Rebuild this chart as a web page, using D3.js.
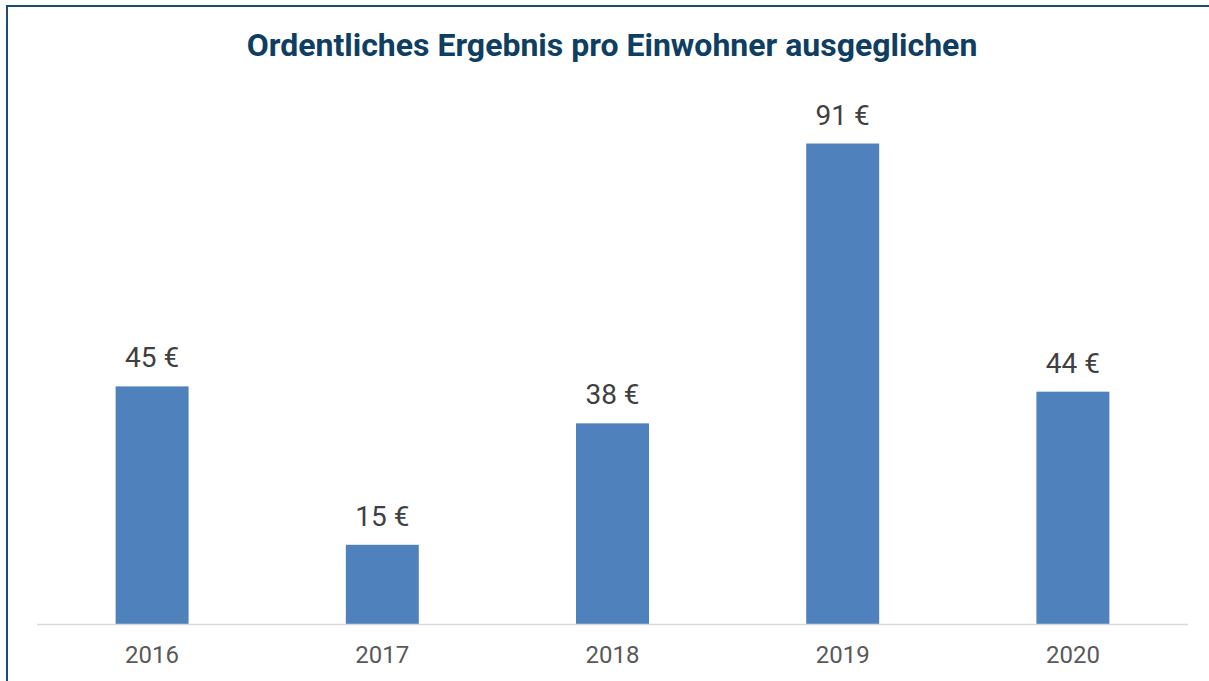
<!DOCTYPE html>
<html>
<head>
<meta charset="utf-8">
<script src="https://cdn.jsdelivr.net/npm/d3@7"></script>
<style>
  html, body { margin: 0; padding: 0; background: #fff; }
  svg { display: block; font-family: Roboto, "Noto Sans", sans-serif; }
</style>
</head>
<body>
<svg id="chart" width="1209" height="681"></svg>
<script>
const years = ["2016", "2017", "2018", "2019", "2020"];
const values = [45, 15, 38, 91, 44];
const titleText = "Ordentliches Ergebnis pro Einwohner ausgeglichen";

const W = 1209;
const H = 681;
const axisY = 624;

const svg = d3.select("#chart");

// frame, only top and left edges are inside the picture
svg.append("rect")
  .attr("x", 7)
  .attr("y", 6)
  .attr("width", W + 20)
  .attr("height", H + 20)
  .attr("fill", "none")
  .attr("stroke", "#1b4a72")
  .attr("stroke-width", 2);

svg.append("text")
  .attr("x", 612)
  .attr("y", 56)
  .attr("text-anchor", "middle")
  .attr("fill", "#0f3e63")
  .attr("font-size", 32)
  .attr("font-weight", 700)
  .text(titleText);

const x = d3.scaleBand()
  .domain(years)
  .range([37, 1188])
  .paddingInner(0.683)
  .paddingOuter(0.3415);

const y = d3.scaleLinear()
  .domain([0, 100])
  .range([axisY, axisY - 528]);

svg.append("g")
  .selectAll("rect")
  .data(values)
  .enter()
  .append("rect")
  .attr("x", (_d, i) => x(years[i]))
  .attr("y", (d) => y(d))
  .attr("width", x.bandwidth())
  .attr("height", (d) => axisY - y(d))
  .attr("fill", "#4f81bd");

svg.append("line")
  .attr("x1", 37)
  .attr("x2", 1188)
  .attr("y1", axisY + 0.5)
  .attr("y2", axisY + 0.5)
  .attr("stroke", "#d9d9d9")
  .attr("stroke-width", 1.5);

svg.append("g")
  .selectAll("text")
  .data(values)
  .enter()
  .append("text")
  .attr("x", (_d, i) => x(years[i]) + x.bandwidth() / 2)
  .attr("y", (d) => y(d) - 19)
  .attr("text-anchor", "middle")
  .attr("fill", "#404040")
  .attr("font-size", 28)
  .text((d) => `${d} €`);

svg.append("g")
  .selectAll("text")
  .data(years)
  .enter()
  .append("text")
  .attr("x", (d) => x(d) + x.bandwidth() / 2)
  .attr("y", 663)
  .attr("text-anchor", "middle")
  .attr("fill", "#595959")
  .attr("font-size", 24)
  .text((d) => d);
</script>
</body>
</html>
